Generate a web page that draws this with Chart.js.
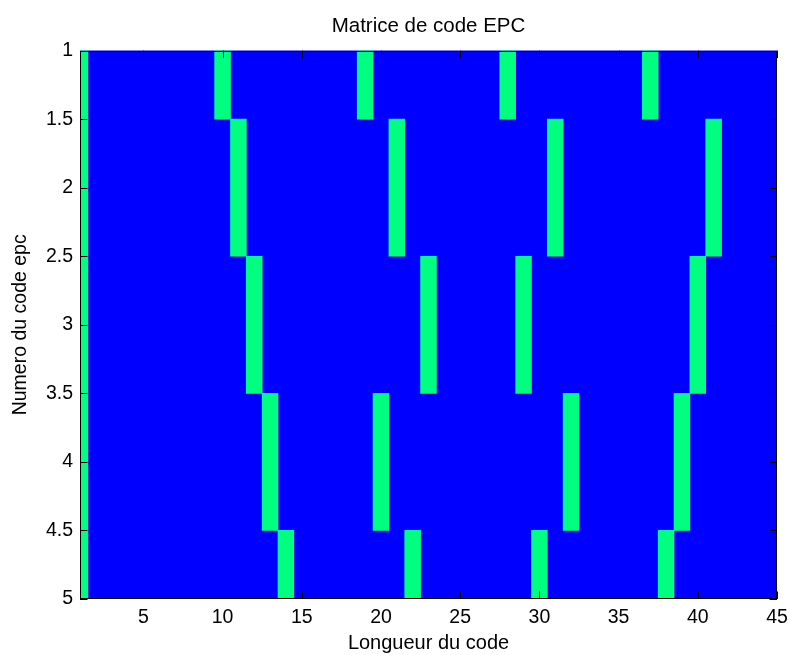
<!DOCTYPE html>
<html>
<head>
<meta charset="utf-8">
<script src="https://cdn.jsdelivr.net/npm/chart.js@4"></script>
<style>
  html, body { margin: 0; padding: 0; background: #fff; }
  #wrap { width: 789px; height: 655px; }
</style>
</head>
<body>
<div id="wrap"><canvas id="myChart"></canvas></div>
<script>
// rows of the EPC code matrix and the columns holding a 1 in each row
var epcRows = [1, 2, 3, 4, 5];
var codeLength = 45;
var onesRow1 = [1, 10, 19, 28, 37];
var onesRow2 = [1, 11, 21, 31, 41];
var onesRow3 = [1, 12, 23, 29, 40];
var onesRow4 = [1, 13, 20, 32, 39];
var onesRow5 = [1, 14, 22, 30, 38];
var onesByRow = [onesRow1, onesRow2, onesRow3, onesRow4, onesRow5];

var xTickValues = [5, 10, 15, 20, 25, 30, 35, 40, 45];
var yTickValues = [1, 1.5, 2, 2.5, 3, 3.5, 4, 4.5, 5];

var fontFamily = '"Liberation Sans", Arial, Helvetica, sans-serif';
var tickLen = 7.5;

// zero cells: one full-width strip per row
var zeroData = epcRows.map(function (r) {
    return { y: String(r), x: [0.5, codeLength + 0.5] };
});
// one cells
var oneData = [];
epcRows.forEach(function (r, i) {
    onesByRow[i].forEach(function (c) {
        oneData.push({ y: String(r), x: [c - 0.5, c + 0.5] });
    });
});

// box around the axes with inward ticks, like matlab
var matlabFrame = {
    id: 'matlabFrame',
    afterDatasetsDraw: function (chart) {
        var ctx = chart.ctx, a = chart.chartArea;
        var sx = chart.scales.x, sy = chart.scales.yv;
        ctx.save();
        ctx.strokeStyle = '#000';
        ctx.lineWidth = 1;
        ctx.beginPath();
        sx.ticks.forEach(function (t) {
            var px = Math.round(sx.getPixelForValue(t.value)) + 0.5;
            ctx.moveTo(px, a.bottom); ctx.lineTo(px, a.bottom - tickLen);
            ctx.moveTo(px, a.top); ctx.lineTo(px, a.top + tickLen);
        });
        sy.ticks.forEach(function (t) {
            var py = Math.round(sy.getPixelForValue(t.value)) + 0.5;
            ctx.moveTo(a.left, py); ctx.lineTo(a.left + tickLen, py);
            ctx.moveTo(a.right, py); ctx.lineTo(a.right - tickLen, py);
        });
        ctx.stroke();
        ctx.strokeRect(Math.round(a.left) + 0.5, Math.round(a.top) + 0.5,
            Math.round(a.width) - 1, Math.round(a.height) - 1);
        ctx.restore();
    }
};

var ctx = document.getElementById('myChart').getContext('2d');
var chart = new Chart(ctx, {
    type: 'bar',
    data: {
        datasets: [{
            label: '1',
            data: oneData,
            backgroundColor: '#00ff80',
            borderWidth: 0,
            grouped: false,
            order: 0,
            barPercentage: 1,
            categoryPercentage: 1
        }, {
            label: '0',
            data: zeroData,
            backgroundColor: '#0000ff',
            borderWidth: 0,
            grouped: false,
            order: 1,
            barPercentage: 1,
            categoryPercentage: 1
        }]
    },
    options: {
        indexAxis: 'y',
        responsive: true,
        maintainAspectRatio: false,
        animation: false,
        layout: { padding: { left: 0, right: 12, top: 0, bottom: 0 } },
        plugins: {
            legend: { display: false },
            tooltip: { enabled: false },
            title: {
                display: true,
                fullSize: false,
                text: 'Matrice de code EPC',
                color: '#000',
                font: { family: fontFamily, size: 20.5, weight: 'normal' },
                padding: { top: 14, bottom: 12 }
            }
        },
        scales: {
            y: {
                type: 'category',
                labels: epcRows.map(String),
                offset: false,
                display: false
            },
            yv: {
                type: 'linear',
                axis: 'y',
                position: 'left',
                offset: false,
                min: 1,
                max: 5,
                reverse: true,
                afterBuildTicks: function (s) {
                    s.ticks = yTickValues.map(function (v) { return { value: v }; });
                },
                afterFit: function (s) { s.width = 80; },
                grid: { display: false, drawTicks: false, offset: false },
                border: { display: false },
                ticks: {
                    color: '#000',
                    padding: 7,
                    font: { family: fontFamily, size: 19.5 },
                    callback: function (v) { return String(v); }
                },
                title: {
                    display: true,
                    text: 'Numero du code epc',
                    color: '#000',
                    font: { family: fontFamily, size: 19.5 },
                    padding: { top: 9, bottom: 0 }
                }
            },
            x: {
                type: 'linear',
                position: 'bottom',
                min: 1,
                max: codeLength,
                afterBuildTicks: function (s) {
                    s.ticks = xTickValues.map(function (v) { return { value: v }; });
                },
                afterFit: function (s) {
                    s.height = 56;
                    s.paddingLeft = 0;
                    s.paddingRight = 0;
                },
                grid: { display: false, drawTicks: false },
                border: { display: false },
                ticks: {
                    color: '#000',
                    padding: 7,
                    maxRotation: 0,
                    font: { family: fontFamily, size: 19.5 },
                    callback: function (v) { return String(v); }
                },
                title: {
                    display: true,
                    text: 'Longueur du code',
                    color: '#000',
                    font: { family: fontFamily, size: 20 },
                    padding: { top: 0, bottom: 0 }
                }
            }
        }
    },
    plugins: [matlabFrame]
});
</script>
</body>
</html>
